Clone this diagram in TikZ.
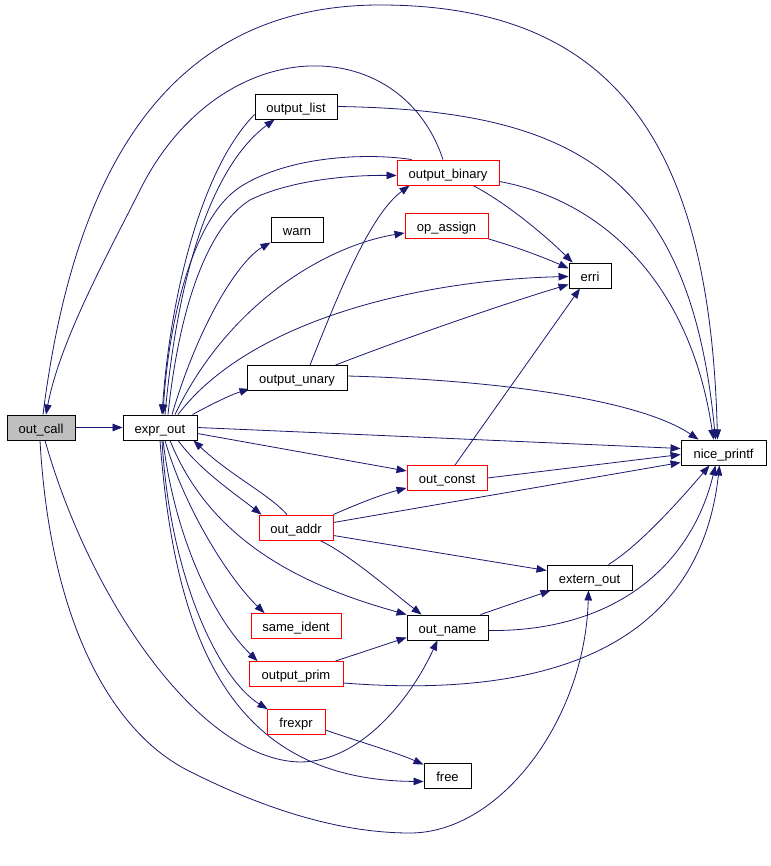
\documentclass[tikz,border=0pt]{standalone}
\usepackage{fontspec}
\setmainfont{Liberation Sans}
\usetikzlibrary{arrows.meta,calc,backgrounds}
\definecolor{edgec}{RGB}{25,25,112}
\definecolor{grayfill}{RGB}{191,191,191}
\begin{document}
\begin{tikzpicture}[x=1pt,y=-1pt,
  fn/.style={draw=black,line width=0.9pt,rectangle,inner sep=0pt,minimum height=25pt,text height=14pt,text depth=2.4pt,fill=white,font=\fontsize{13}{15}\selectfont},
  rfn/.style={fn,draw=red},
  call/.style={draw=edgec,line width=0.8pt,-{Triangle[length=10pt,width=7.5pt]}}]
\useasboundingbox (0,0) rectangle (770,866);
% nodes
\node[fn,fill=grayfill,minimum width=68pt] (oc) at (41,427.5) {out\_call};
\node[fn,minimum width=74pt] (eo) at (160,427.5) {expr\_out};
\node[fn,minimum width=82pt] (ol) at (296,106.5) {output\_list};
\node[rfn,minimum width=102pt] (ob) at (448,172.5) {output\_binary};
\node[fn,minimum width=52pt] (wn) at (297,229.5) {warn};
\node[rfn,minimum width=83pt] (oa) at (446.5,226) {op\_assign};
\node[fn,minimum width=42pt] (er) at (590,275.5) {erri};
\node[fn,minimum width=100pt] (ou) at (297,378) {output\_unary};
\node[fn,minimum width=85pt] (np) at (723.5,452.5) {nice\_printf};
\node[rfn,minimum width=80pt] (ocn) at (447,478) {out\_const};
\node[rfn,minimum width=74pt] (oad) at (296,527.5) {out\_addr};
\node[fn,minimum width=85pt] (ext) at (589.5,577.5) {extern\_out};
\node[fn,minimum width=81pt] (onm) at (447.5,627.5) {out\_name};
\node[rfn,minimum width=90pt] (si) at (296,626) {same\_ident};
\node[rfn,minimum width=94pt] (op) at (296,674) {output\_prim};
\node[rfn,minimum width=58pt] (fx) at (296,722) {frexpr};
\node[fn,minimum width=47pt] (fr) at (447.5,775.5) {free};
% edges
\begin{pgfonlayer}{background}
\fill[white] (0,0) rectangle (770,866);
\draw[call] ($(ob.north)+(-5,0)$) .. controls (400,30) and (220,30) .. (140,190) .. controls (110,250) and (60,340) .. ($(oc.north)+(5,0)$);
\draw[call] ($(oc.north)+(2,0)$) .. controls (70,200) and (150,5) .. (380,5) .. controls (620,5) and (710,150) .. ($(np.north)+(-6,0)$);
\draw[call] (ol.east) .. controls (570,110) and (690,170) .. ($(np.north)+(-8,0)$);
\draw[call] ($(ob.east)+(0,9)$) .. controls (600,200) and (690,280) .. ($(np.north)+(-10,0)$);
\draw[call] ($(ou.east)+(0,-2)$) .. controls (500,380) and (640,400) .. ($(np.north)+(-25,0)$);
\draw[call] (eo.east) -- ($(np.west)+(0,-4)$);
\draw[call] (ocn.east) -- ($(np.west)+(0,2)$);
\draw[call] ($(oad.east)+(0,-5)$) -- ($(np.west)+(0,10)$);
\draw[call] ($(ext.north)+(19,0)$) .. controls (640,545) and (680,500) .. ($(np.south)+(-14,0)$);
\draw[call] ($(onm.east)+(0,3)$) .. controls (610,632) and (690,570) .. ($(np.south)+(-8,0)$);
\draw[call] ($(op.east)+(0,9)$) .. controls (560,700) and (700,640) .. ($(np.south)+(-4,0)$);
\draw[call] ($(oc.south)+(-1,0)$) .. controls (50,620) and (110,730) .. (187,770) .. controls (250,802) and (330,833) .. (410,833) .. controls (500,833) and (585,720) .. ($(ext.south)+(-1,0)$);
\draw[call] ($(oc.south)+(4,0)$) .. controls (90,600) and (200,760) .. (300,762) .. controls (360,762) and (410,700) .. ($(onm.south)+(-10,0)$);
\draw[call] ($(eo.north)+(5,0)$) .. controls (180,250) and (220,160) .. ($(ol.south west)+(20,0)$);
\draw[call] ($(ol.west)+(0,8)$) .. controls (200,170) and (170,300) .. ($(eo.north)+(2,0)$);
\draw[call] ($(ob.north west)+(15,0)$) .. controls (370,153) and (290,155) .. (240,187) .. controls (190,220) and (168,330) .. ($(eo.north)+(3,0)$);
\draw[call] ($(eo.north)+(8,0)$) .. controls (180,300) and (210,225) .. (250,200) .. controls (290,180) and (350,175) .. ($(ob.west)+(0,3)$);
\draw[call] ($(eo.north)+(12,0)$) .. controls (200,320) and (240,260) .. (wn.south west);
\draw[call] ($(eo.north)+(15,0)$) .. controls (230,300) and (330,245) .. ($(oa.west)+(0,7)$);
\draw[call] ($(eo.north)+(18,0)$) .. controls (250,320) and (420,280) .. ($(er.west)+(0,1)$);
\draw[call] ($(eo.north east)+(-5,0)$) .. controls (210,405) and (230,395) .. ($(ou.south west)+(3,-2)$);
\draw[call] ($(ou.north)+(13,0)$) .. controls (340,290) and (370,215) .. ($(ob.south west)+(13,0)$);
\draw[call] ($(ou.north east)+(-12,0)$) .. controls (400,340) and (500,305) .. ($(er.west)+(0,9)$);
\draw[call] ($(ob.south)+(25,0)$) .. controls (510,205) and (550,240) .. ($(er.north west)+(4,0)$);
\draw[call] (oa.south east) .. controls (520,248) and (550,260) .. ($(er.west)+(0,-7)$);
\draw[call] ($(ocn.north)+(8,0)$) -- ($(er.south)+(-10,0)$);
\draw[call] ($(eo.east)+(0,6)$) -- ($(ocn.west)+(0,-7)$);
\draw[call] ($(eo.south)+(18,0)$) .. controls (200,470) and (230,490) .. ($(oad.north west)+(3,0)$);
\draw[call] ($(oad.north)+(-9,0)$) .. controls (270,495) and (230,475) .. ($(eo.south east)+(-4,0)$);
\draw[call] (oad.north east) .. controls (355,505) and (380,495) .. ($(ocn.south west)+(0,-3)$);
\draw[call] ($(oad.east)+(0,8)$) -- ($(ext.west)+(0,-7)$);
\draw[call] ($(oad.south)+(24,0)$) .. controls (350,555) and (390,590) .. ($(onm.north west)+(15,0)$);
\draw[call] ($(eo.south)+(10,0)$) .. controls (210,540) and (300,585) .. (onm.north west);
\draw[call] ($(eo.south)+(5,0)$) .. controls (185,510) and (230,580) .. ($(si.north west)+(14,0)$);
\draw[call] ($(eo.south)+(3,0)$) .. controls (175,540) and (215,620) .. ($(op.north west)+(9,0)$);
\draw[call] ($(eo.south)+(2,0)$) .. controls (170,580) and (220,680) .. ($(fx.north west)+(1,0)$);
\draw[call] (eo.south) .. controls (175,640) and (230,780) .. ($(fr.west)+(0,6)$);
\draw[call] ($(fx.east)+(0,8)$) .. controls (360,742) and (395,752) .. ($(fr.north west)+(0,2)$);
\draw[call] ($(onm.north east)+(-8,0)$) -- ($(ext.south west)+(4,0)$);
\draw[call] ($(op.north east)+(-8,0)$) -- ($(onm.west)+(0,10)$);
\draw[call] (oc.east) -- (eo.west);
\end{pgfonlayer}
\end{tikzpicture}
\end{document}
